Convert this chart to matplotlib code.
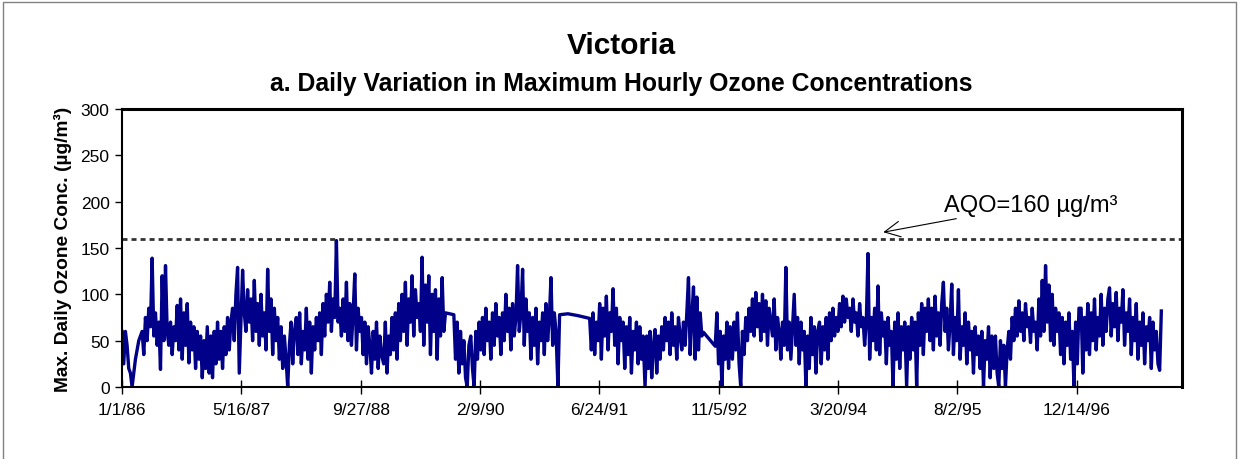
import numpy as np
import pandas as pd
import matplotlib
matplotlib.use("Agg")
import matplotlib.pyplot as plt
from matplotlib.patches import Rectangle

plt.rcParams['font.family'] = ['Liberation Sans', 'DejaVu Sans']

# Max. daily ozone (ug/m3), one reading per week
# None = no data (the line is carried straight across)
v1986 = [60, 25, 60, 45, 20, 15, 0, 15, 30, 40, 50, 55, 60, 35, 75, 50, 85, 65, 139, 55,
         80, 45, 70, 19, 120, 50, 131, 60, 45, 70, 35, 65, 50, 88, 40, 95, 30, 80, 45, 90,
         26, 70, 40, 65, 20, 60, 30, 55, 10, 50, 20, 65]
v1987 = [15, 55, 10, 60, 25, 70, 30, 60, 20, 65, 35, 75, 40, 70, 85, 50, 100, 129, 15, 70,
         126, 80, 60, 105, 70, 95, 50, 115, 60, 90, 45, 100, 55, 80, 40, 127, 60, 95, 35, 85,
         50, 75, 30, 65, 20, 55, 30, 0, 45, 70, 25, 60]
v1988 = [75, 35, 80, 25, 60, 40, 85, 30, 70, 15, 65, 40, 75, 50, 80, 35, 90, 55, 100, 70,
         113, 60, 95, 75, 158, 70, 85, 55, 95, 60, 113, 50, 90, 45, 80, 122, 40, 85, 60, 75,
         35, 70, 25, 65, 45, 15, 60, 30, 70, 20, 55, 35]
v1989 = [25, 70, 15, 55, 35, 75, 40, 80, 30, 90, 50, 100, 60, 113, 45, 95, 70, 120, 55, 105,
         75, 90, 60, 140, 45, 110, 70, 120, 35, 100, 60, 105, 30, 95, 55, 118, 60, 80, None, None,
         None, None, 78, 30, 70, 15, 60, 25, 50, 10, 0, 45]
v1990 = [55, 20, 0, 60, 30, 70, 40, 75, 35, 85, 50, 70, 30, 80, 45, 90, 55, 75, 35, 80,
         50, 100, 60, 85, 40, 90, 55, 75, 131, 60, 80, 127, 45, 95, 60, 80, 30, 75, 45, 85,
         25, 70, 50, 80, 35, 90, 50, 75, 118, 45, 80, 60]
v1991 = [0, 78, None, None, None, None, 79, None, None, None, None, None, 77, None, None, None, None, None, None, 74,
         40, 80, 35, 70, 50, 90, 30, 85, 55, 98, 40, 80, 60, 106, 45, 85, 25, 75, 50, 70,
         20, 65, 35, 75, 15, 60, 40, 70, 25, 65, 30, 55]
v1992 = [0, 55, 20, 60, 10, 45, 62, 15, 55, 30, 65, 40, 75, 50, 70, 35, 80, 45, 65, 30,
         75, 55, 40, 70, 45, 80, 118, 35, 75, 108, 30, 97, 40, 80, 55, 59, None, None, None, None,
         None, None, 44, 80, 25, 60, 0, 55, 30, 70, 20, 65]
v1993 = [30, 70, 40, 80, 25, 0, 60, 35, 75, 50, 85, 60, 95, 55, 102, 65, 90, 50, 100, 60,
         93, 45, 85, 70, 55, 95, 40, 75, 60, 30, 70, 45, 129, 40, 70, 30, 65, 100, 45, 75,
         25, 70, 40, 60, 0, 55, 20, 75, 35, 65, 15, 60]
v1994 = [70, 25, 65, 40, 75, 30, 80, 50, 85, 55, 75, 60, 90, 65, 98, 70, 95, 75, 85, 60,
         95, 70, 80, 55, 90, 65, 75, 45, 70, 144, 30, 75, 50, 85, 40, 109, 35, 80, 55, 70,
         25, 75, 45, 60, 0, 70, 30, 80, 20, 65, 40, 70]
v1995 = [0, 65, 30, 75, 40, 70, 0, 80, 45, 90, 35, 85, 60, 95, 50, 85, 40, 98, 55, 80,
         45, 90, 113, 60, 85, 40, 70, 111, 35, 75, 50, 105, 30, 65, 45, 80, 25, 70, 40, 60,
         15, 65, 35, 55, 20, 60, 0, 50, 30, 65, 10, 55]
v1996 = [20, 55, 15, 0, 50, 20, 45, 0, 40, 60, 30, 75, 50, 85, 55, 93, 60, 80, 50, 90,
         65, 75, 48, 85, 60, 70, 40, 95, 55, 115, 60, 131, 70, 110, 50, 100, 45, 85, 60, 80,
         35, 75, 25, 70, 45, 80, 30, 60, 0, 70, 25, 85]
v1997 = [85, 15, 75, 40, 90, 35, 80, 50, 95, 40, 75, 55, 100, 45, 85, 60, 95, 107, 55, 90,
         65, 102, 50, 85, 70, 105, 45, 80, 60, 95, 35, 75, 50, 90, 30, 70, 45, 80, 25, 65,
         50, 75, 20, 70, 40, 60, 25, 18, 82]

years = [1986, 1987, 1988, 1989, 1990, 1991, 1992, 1993, 1994, 1995, 1996, 1997]
yearly = [v1986, v1987, v1988, v1989, v1990, v1991, v1992, v1993, v1994, v1995, v1996, v1997]

tick_labels = ['1/1/86', '5/16/87', '9/27/88', '2/9/90', '6/24/91',
               '11/5/92', '3/20/94', '8/2/95', '12/14/96']
aqo = 160

# build the series
parts = []
for y, vals in zip(years, yearly):
    d = pd.date_range(f'{y}-01-01', periods=len(vals), freq='7D')
    parts.append(pd.Series(vals, index=d, dtype=float))
ozone = pd.concat(parts).dropna()

fig = plt.figure(figsize=(12.43, 4.6), dpi=100)
ax = fig.add_axes([0.0982, 0.1565, 0.8528, 0.6045])

ax.plot(ozone.index, ozone.values, color='#000088', lw=2.4)
ax.axhline(aqo, color='#333333', lw=2, linestyle=(0, (1.8, 1.45)))

start = pd.Timestamp('1986-01-01')
ax.set_xlim(start, start + pd.Timedelta(days=4441))
ax.set_ylim(0, 300)
ax.set_yticks(np.arange(0, 301, 50))
ticks = pd.to_datetime(tick_labels, format='%m/%d/%y')
ax.set_xticks(ticks)
ax.set_xticklabels(tick_labels)

ax.tick_params(axis='y', direction='out', length=5, width=1, labelsize=12.5, pad=4)
ax.tick_params(axis='x', direction='inout', length=10, width=1, labelsize=12.5, pad=6)
for side in ['left', 'bottom']:
    ax.spines[side].set_linewidth(1.5)
for side in ['top', 'right']:
    ax.spines[side].set_linewidth(2.2)

ax.set_ylabel('Max. Daily Ozone Conc. (µg/m³)', fontsize=13.8, fontweight='bold', labelpad=6)

# AQO label with arrow
ax.annotate('AQO=160 µg/m³', xy=(pd.Timestamp('1994-09-25'), 167),
            xytext=(pd.Timestamp('1995-06-06'), 190), fontsize=17,
            ha='left', va='baseline',
            arrowprops=dict(arrowstyle='->', color='black', lw=0.8, shrinkA=0, shrinkB=0,
                            mutation_scale=28))

fig.text(0.4995, 0.9, 'Victoria', ha='center', va='center', fontsize=21.5, fontweight='bold')
fig.text(0.4995, 0.818, 'a. Daily Variation in Maximum Hourly Ozone Concentrations',
         ha='center', va='center', fontsize=17.8, fontweight='bold')

# thin frame round the chart
fig.patches.append(Rectangle((3 / 1243, -0.05), 1233 / 1243, 0.9935 + 0.05,
                             transform=fig.transFigure, fill=False,
                             edgecolor='#808080', lw=1))

fig.savefig('out.png', dpi=100)
